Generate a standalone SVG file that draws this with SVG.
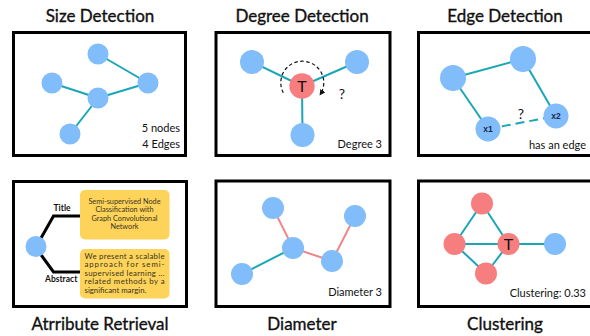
<svg xmlns="http://www.w3.org/2000/svg" width="590" height="336" viewBox="0 0 590 336">
<defs>
<style>
.title{font-family:Lato,"Noto Sans","Liberation Sans",sans-serif;font-size:17px;fill:#111;stroke:#111;stroke-width:0.35;text-anchor:middle}
.lbl{font-family:Lato,"Noto Sans","Liberation Sans",sans-serif;font-size:11px;fill:#111;text-anchor:end}
.box{fill:#fff;stroke:#000;stroke-width:3}
.blue{fill:#80BDFA}
.pink{fill:#F77E7E}
.te{stroke:#1AA6B7;stroke-width:2;fill:none}
.pe{stroke:#F08585;stroke-width:2;fill:none}
.yb{fill:#FDD35A}
.yt{font-family:Lato,"Noto Sans","Liberation Sans",sans-serif;font-size:7.3px;fill:#3b3320}
.xl{font-family:"Liberation Sans",Arial,sans-serif;font-size:8.5px;font-weight:bold;fill:#1d2b4a;text-anchor:middle}
.tt{font-family:Lato,"Noto Sans","Liberation Sans",sans-serif;font-size:16px;fill:#111;text-anchor:middle}
</style>
<marker id="ah" viewBox="0 0 10 10" refX="8" refY="5" markerWidth="5" markerHeight="5" orient="auto">
<path d="M0,0 L10,5 L0,10 z" fill="#111"/>
</marker>
</defs>

<!-- Panel 1: Size Detection -->
<g id="panel-size">
<text class="title" x="100" y="22">Size Detection</text>
<rect class="box" x="13.5" y="32.5" width="172" height="123"/>
<g id="size-edges">
<line class="te" x1="98" y1="54" x2="148" y2="83"/>
<line class="te" x1="52" y1="83" x2="98" y2="98"/>
<line class="te" x1="98" y1="98" x2="148" y2="83"/>
<line class="te" x1="98" y1="98" x2="70" y2="134"/>
</g>
<g id="size-nodes">
<circle class="blue" cx="98" cy="54" r="10.5"/>
<circle class="blue" cx="148" cy="83" r="10.5"/>
<circle class="blue" cx="52" cy="83" r="10.5"/>
<circle class="blue" cx="98" cy="98" r="10.5"/>
<circle class="blue" cx="70" cy="134" r="10.5"/>
</g>
<text class="lbl" x="180" y="132">5 nodes</text>
<text class="lbl" x="180" y="148">4 Edges</text>
</g>

<!-- Panel 2: Degree Detection -->
<g id="panel-degree">
<text class="title" x="302" y="22">Degree Detection</text>
<rect class="box" x="216" y="32.5" width="174" height="123"/>
<g id="degree-edges">
<line class="te" x1="252" y1="62" x2="302" y2="86"/>
<line class="te" x1="357" y1="62" x2="302" y2="86"/>
<line class="te" x1="302" y1="86" x2="302.5" y2="135"/>
<path d="M283.3,92.8 A21.5,21.5 0 1 1 320.2,94.6" fill="none" stroke="#111" stroke-width="1.2" stroke-dasharray="3.5,2.5" marker-end="url(#ah)"/>
</g>
<g id="degree-nodes">
<circle class="blue" cx="252" cy="62" r="12"/>
<circle class="blue" cx="357" cy="62" r="12"/>
<circle class="blue" cx="302.5" cy="135" r="12"/>
<circle class="pink" cx="302" cy="86" r="12.7"/>
<text class="tt" x="302" y="92">T</text>
</g>
<text class="tt" x="342" y="99" style="font-size:14px">?</text>
<text class="lbl" x="382" y="148">Degree 3</text>
</g>

<!-- Panel 3: Edge Detection -->
<g id="panel-edge">
<text class="title" x="505" y="22">Edge Detection</text>
<rect class="box" x="418.5" y="32.5" width="174" height="123"/>
<g id="edge-edges">
<line class="te" x1="453" y1="78" x2="523" y2="59"/>
<line class="te" x1="453" y1="78" x2="488" y2="129"/>
<line class="te" x1="523" y1="59" x2="556" y2="116"/>
<line class="te" x1="488" y1="129" x2="556" y2="116" stroke-dasharray="9,5"/>
</g>
<g id="edge-nodes">
<circle class="blue" cx="453" cy="78" r="13"/>
<circle class="blue" cx="523" cy="59" r="13"/>
<circle class="blue" cx="556" cy="116" r="12.5"/>
<circle class="blue" cx="488" cy="129" r="12.5"/>
<text class="xl" x="488" y="132">x1</text>
<text class="xl" x="556" y="119">x2</text>
</g>
<text class="tt" x="521" y="119" style="font-size:14px">?</text>
<text class="lbl" x="586" y="149">has an edge</text>
</g>

<!-- Panel 4: Attribute Retrieval -->
<g id="panel-attr">
<rect class="box" x="13.5" y="181.5" width="173" height="125"/>
<g id="attr-lines">
<polyline points="40.5,239 53.5,216 80,216" fill="none" stroke="#000" stroke-width="3" stroke-linejoin="miter"/>
<polyline points="40.5,254 53.5,272 80,272" fill="none" stroke="#000" stroke-width="3" stroke-linejoin="miter"/>
</g>
<g id="attr-node">
<circle class="blue" cx="36" cy="246.5" r="10.5"/>
</g>
<text x="53.5" y="211" style="font-family:Lato,'Noto Sans',sans-serif;font-size:8.5px;font-weight:bold;fill:#111">Title</text>
<text x="45" y="282" style="font-family:Lato,'Noto Sans',sans-serif;font-size:8.5px;font-weight:bold;fill:#111">Abstract</text>
<g id="attr-title-box">
<rect class="yb" x="80" y="190" width="89.5" height="49.5" rx="5"/>
<text class="yt" text-anchor="middle" x="124.5" y="203.5">Semi-supervised Node</text>
<text class="yt" text-anchor="middle" x="124.5" y="212">Classification with</text>
<text class="yt" text-anchor="middle" x="124.5" y="220.5">Graph Convolutional</text>
<text class="yt" text-anchor="middle" x="124.5" y="229">Network</text>
</g>
<g id="attr-abstract-box">
<rect class="yb" x="80" y="249" width="89.5" height="49.5" rx="5"/>
<text class="yt" x="84.5" y="258.5" textLength="80" lengthAdjust="spacing" style="font-size:7.8px">We present a scalable</text>
<text class="yt" x="84.5" y="267" textLength="80" lengthAdjust="spacing" style="font-size:7.8px">approach for semi-</text>
<text class="yt" x="84.5" y="275.5" textLength="80" lengthAdjust="spacing" style="font-size:7.8px">supervised learning ...</text>
<text class="yt" x="84.5" y="284" textLength="80" lengthAdjust="spacing" style="font-size:7.8px">related methods by a</text>
<text class="yt" x="84.5" y="292.5" style="font-size:7.8px">significant margin.</text>
</g>
<text class="title" x="100" y="330">Atrribute Retrieval</text>
</g>

<!-- Panel 5: Diameter -->
<g id="panel-diameter">
<rect class="box" x="216" y="181" width="174" height="125.5"/>
<g id="diameter-edges">
<line class="pe" x1="273" y1="208" x2="293" y2="248"/>
<line class="pe" x1="293" y1="248" x2="332" y2="261"/>
<line class="pe" x1="332" y1="261" x2="355" y2="216"/>
<line class="te" x1="293" y1="248" x2="242" y2="274"/>
</g>
<g id="diameter-nodes">
<circle class="blue" cx="273" cy="208" r="11"/>
<circle class="blue" cx="293" cy="248" r="11"/>
<circle class="blue" cx="332" cy="261" r="11"/>
<circle class="blue" cx="355" cy="216" r="11"/>
<circle class="blue" cx="242" cy="274" r="11"/>
</g>
<text class="lbl" x="382" y="296">Diameter 3</text>
<text class="title" x="302" y="330">Diameter</text>
</g>

<!-- Panel 6: Clustering -->
<g id="panel-clustering">
<rect class="box" x="418.5" y="181" width="174" height="125.5"/>
<g id="clustering-edges">
<line class="te" x1="482" y1="203.5" x2="454.5" y2="244"/>
<line class="te" x1="482" y1="203.5" x2="508.5" y2="244"/>
<line class="te" x1="454.5" y1="244" x2="508.5" y2="244"/>
<line class="te" x1="454.5" y1="244" x2="486" y2="273.5"/>
<line class="te" x1="486" y1="273.5" x2="508.5" y2="244"/>
<line class="te" x1="508.5" y1="244" x2="555" y2="244"/>
</g>
<g id="clustering-nodes">
<circle class="pink" cx="482" cy="203.5" r="11"/>
<circle class="pink" cx="454.5" cy="244" r="11"/>
<circle class="pink" cx="486" cy="273.5" r="11"/>
<circle class="pink" cx="508.5" cy="244" r="11"/>
<circle class="blue" cx="555" cy="244" r="11"/>
<text class="tt" x="508.5" y="250">T</text>
</g>
<text class="lbl" x="586" y="297">Clustering: 0.33</text>
<text class="title" x="505" y="330">Clustering</text>
</g>
</svg>
